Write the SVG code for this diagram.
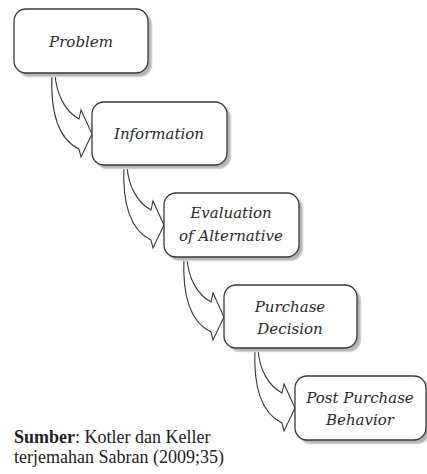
<svg xmlns="http://www.w3.org/2000/svg" width="427" height="474" viewBox="0 0 427 474">
  <style>
    .shadow { fill: #b4b4b4; stroke: #d2d2d2; stroke-width: 1.6; }
    .box { fill: #ffffff; stroke: #3a3a3a; stroke-width: 1.3; }
    .arrow { fill: #ffffff; stroke: #3a3a3a; stroke-width: 1.1; stroke-linejoin: miter; }
    .stage { font-family: "DejaVu Serif", serif; font-style: italic; font-size: 15px; fill: #2a2a2a; text-anchor: middle; }
    .src { font-family: "Liberation Serif", serif; font-size: 18px; fill: #222222; }
  </style>
  <rect width="427" height="474" fill="#ffffff"/>

  <!-- curved block arrows between stages -->
  <g id="connectors">
    <path class="arrow" d="M52,73 C50,115 60,140 79,149 L81,157 L92,134 L81,110 L79,119 C66,112 56,95 55,73 Z"/>
    <path class="arrow" d="M124,165 C122,207 132,231 151,240 L153,248 L164,225 L153,201 L151,210 C138,203 128,187 127,165 Z"/>
    <path class="arrow" d="M184,257 C182,299 192,323 211,332 L213,340 L224,317 L213,293 L211,302 C198,295 188,279 187,257 Z"/>
    <path class="arrow" d="M255,348 C253,390 263,414 282,423 L284,431 L295,408 L284,384 L282,393 C269,386 259,370 258,348 Z"/>
  </g>

  <g id="problem">
    <rect class="shadow" x="17.5" y="12.5" width="134" height="64" rx="12"/>
    <rect class="box" x="14" y="9" width="134" height="64" rx="12"/>
    <text class="stage" x="81" y="47">Problem</text>
  </g>
  <g id="information">
    <rect class="shadow" x="95.5" y="105.5" width="135" height="63" rx="12"/>
    <rect class="box" x="92" y="102" width="135" height="63" rx="12"/>
    <text class="stage" x="159" y="139">Information</text>
  </g>
  <g id="evaluation">
    <rect class="shadow" x="167.5" y="196.5" width="135" height="64" rx="12"/>
    <rect class="box" x="164" y="193" width="135" height="64" rx="12"/>
    <text class="stage" x="231" y="218">Evaluation</text>
    <text class="stage" x="231" y="241">of Alternative</text>
  </g>
  <g id="purchase-decision">
    <rect class="shadow" x="227.5" y="288.5" width="133" height="63" rx="12"/>
    <rect class="box" x="224" y="285" width="133" height="63" rx="12"/>
    <text class="stage" x="290" y="312">Purchase</text>
    <text class="stage" x="290" y="334">Decision</text>
  </g>
  <g id="post-purchase">
    <rect class="shadow" x="298.5" y="379.5" width="131" height="64" rx="12"/>
    <rect class="box" x="295" y="376" width="131" height="64" rx="12"/>
    <text class="stage" x="360" y="403">Post Purchase</text>
    <text class="stage" x="360" y="425">Behavior</text>
  </g>

  <g id="source">
    <text class="src" x="14" y="443"><tspan font-weight="bold">Sumber</tspan>: Kotler dan Keller</text>
    <text class="src" x="14" y="463">terjemahan Sabran (2009;35)</text>
  </g>
</svg>
